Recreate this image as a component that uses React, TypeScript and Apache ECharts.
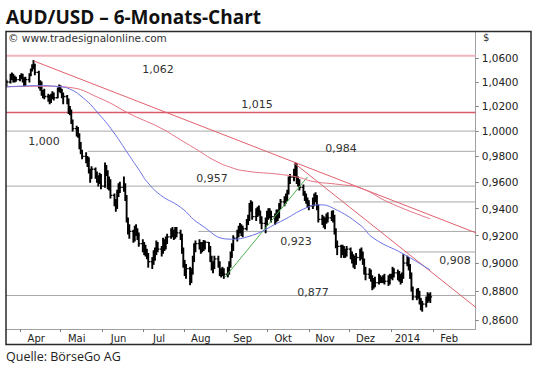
import React, { useEffect, useRef } from 'react';
import * as echarts from 'echarts';

// ---------- data ----------
const START_DATE = '2013-03-22';
const FIRST_OPEN = 1.038;

// daily closes (weekdays from START_DATE)
const closes = [
  1.0400,
  1.0440, 1.0460, 1.0420, 1.0430, 1.0420,
  1.0440, 1.0450, 1.0420, 1.0390, 1.0420,
  1.0460, 1.0500, 1.0530, 1.0540, 1.0480,
  1.0370, 1.0390, 1.0310, 1.0300, 1.0280,
  1.0270, 1.0250, 1.0280, 1.0300, 1.0270,
  1.0340, 1.0360, 1.0330, 1.0290, 1.0280,
  1.0250, 1.0180, 1.0160, 1.0080, 1.0020,
  1.0010, 0.9970, 0.9880, 0.9840, 0.9800,
  0.9780, 0.9770, 0.9690, 0.9630, 0.9700,
  0.9660, 0.9620, 0.9620, 0.9650, 0.9570,
  0.9720, 0.9680, 0.9580, 0.9610, 0.9500,
  0.9440, 0.9420, 0.9520, 0.9560, 0.9560,
  0.9580, 0.9480, 0.9320, 0.9250, 0.9230,
  0.9170, 0.9260, 0.9230, 0.9200, 0.9140,
  0.9140, 0.9100, 0.9090, 0.9050, 0.9010,
  0.9000, 0.9060, 0.9090, 0.9140, 0.9100,
  0.9080, 0.9160, 0.9120, 0.9160, 0.9190,
  0.9230, 0.9220, 0.9200, 0.9240, 0.9220,
  0.9200, 0.9090, 0.9000, 0.8940, 0.8960,
  0.8890, 0.8930, 0.9030, 0.9120, 0.9140,
  0.9140, 0.9100, 0.9130, 0.9120, 0.9150,
  0.9110, 0.9040, 0.8980, 0.8970, 0.9030,
  0.9000, 0.8930, 0.8940, 0.8950, 0.8920,
  0.8950, 0.8990, 0.9060, 0.9120, 0.9180,
  0.9220, 0.9250, 0.9270, 0.9220, 0.9250,
  0.9300, 0.9330, 0.9420, 0.9440, 0.9340,
  0.9370, 0.9400, 0.9380, 0.9320, 0.9290,
  0.9310, 0.9350, 0.9380, 0.9360, 0.9340,
  0.9320, 0.9370, 0.9350, 0.9420, 0.9450,
  0.9470, 0.9480, 0.9520, 0.9620, 0.9640,
  0.9660, 0.9710, 0.9610, 0.9600, 0.9560,
  0.9520, 0.9490, 0.9460, 0.9440, 0.9420,
  0.9460, 0.9500, 0.9480, 0.9420, 0.9320,
  0.9330, 0.9300, 0.9310, 0.9340, 0.9330,
  0.9360, 0.9340, 0.9240, 0.9130, 0.9120,
  0.9090, 0.9110, 0.9070, 0.9080, 0.9100,
  0.9060, 0.9050, 0.9000, 0.9020, 0.9040,
  0.9080, 0.9060, 0.9020, 0.8950, 0.8920,
  0.8940, 0.8900, 0.8830, 0.8870, 0.8860,
  0.8900, 0.8890, 0.8880, 0.8890, 0.8870,
  0.8880, 0.8900, 0.8910, 0.8950, 0.8930,
  0.8920, 0.8900, 0.8880, 0.8900, 0.9000,
  0.9020, 0.8980, 0.8920, 0.8820, 0.8760,
  0.8800, 0.8790, 0.8740, 0.8700, 0.8710,
  0.8740, 0.8770, 0.8750, 0.8760,
];

const highs = [
  1.0415,
  1.0465, 1.0475, 1.0465, 1.0450, 1.0440,
  1.0455, 1.0470, 1.0465, 1.0435, 1.0440,
  1.0470, 1.0510, 1.0545, 1.0580, 1.0550,
  1.0490, 1.0410, 1.0400, 1.0330, 1.0340,
  1.0300, 1.0290, 1.0300, 1.0320, 1.0310,
  1.0350, 1.0375, 1.0370, 1.0340, 1.0310,
  1.0290, 1.0260, 1.0200, 1.0170, 1.0090,
  1.0040, 1.0030, 0.9980, 0.9910, 0.9850,
  0.9830, 0.9800, 0.9790, 0.9700, 0.9720,
  0.9710, 0.9680, 0.9650, 0.9670, 0.9660,
  0.9750, 0.9730, 0.9690, 0.9640, 0.9620,
  0.9510, 0.9470, 0.9540, 0.9590, 0.9600,
  0.9640, 0.9590, 0.9500, 0.9330, 0.9280,
  0.9240, 0.9270, 0.9280, 0.9250, 0.9220,
  0.9170, 0.9150, 0.9130, 0.9100, 0.9070,
  0.9040, 0.9090, 0.9110, 0.9160, 0.9150,
  0.9120, 0.9180, 0.9170, 0.9190, 0.9210,
  0.9250, 0.9260, 0.9240, 0.9260, 0.9260,
  0.9240, 0.9210, 0.9110, 0.9020, 0.8990,
  0.8970, 0.8960, 0.9050, 0.9140, 0.9160,
  0.9170, 0.9150, 0.9150, 0.9165, 0.9160,
  0.9150, 0.9120, 0.9050, 0.9010, 0.9050,
  0.9050, 0.9010, 0.8960, 0.8970, 0.8960,
  0.8970, 0.9010, 0.9080, 0.9140, 0.9200,
  0.9240, 0.9270, 0.9290, 0.9280, 0.9270,
  0.9320, 0.9350, 0.9440, 0.9460, 0.9450,
  0.9400, 0.9410, 0.9420, 0.9380, 0.9340,
  0.9330, 0.9380, 0.9400, 0.9400, 0.9380,
  0.9360, 0.9390, 0.9390, 0.9440, 0.9470,
  0.9490, 0.9510, 0.9540, 0.9640, 0.9660,
  0.9700, 0.9750, 0.9745, 0.9640, 0.9620,
  0.9580, 0.9530, 0.9510, 0.9480, 0.9460,
  0.9480, 0.9510, 0.9520, 0.9500, 0.9430,
  0.9350, 0.9340, 0.9330, 0.9360, 0.9370,
  0.9380, 0.9385, 0.9350, 0.9250, 0.9160,
  0.9130, 0.9130, 0.9120, 0.9100, 0.9120,
  0.9110, 0.9080, 0.9060, 0.9050, 0.9070,
  0.9100, 0.9110, 0.9080, 0.9030, 0.8970,
  0.8960, 0.8950, 0.8910, 0.8890, 0.8900,
  0.8920, 0.8910, 0.8900, 0.8910, 0.8920,
  0.8910, 0.8920, 0.8920, 0.8970, 0.8960,
  0.8950, 0.8940, 0.8920, 0.8930, 0.9060,
  0.9050, 0.9040, 0.8990, 0.8930, 0.8830,
  0.8815, 0.8820, 0.8800, 0.8750, 0.8730,
  0.8760, 0.8790, 0.8780, 0.8790,
];

const lows = [
  1.0360,
  1.0390, 1.0420, 1.0400, 1.0400, 1.0405,
  1.0410, 1.0425, 1.0400, 1.0365, 1.0370,
  1.0400, 1.0450, 1.0490, 1.0510, 1.0460,
  1.0350, 1.0330, 1.0290, 1.0270, 1.0260,
  1.0240, 1.0220, 1.0230, 1.0260, 1.0250,
  1.0270, 1.0320, 1.0310, 1.0270, 1.0220,
  1.0220, 1.0140, 1.0130, 1.0060, 1.0000,
  0.9960, 0.9950, 0.9860, 0.9820, 0.9780,
  0.9750, 0.9720, 0.9670, 0.9600, 0.9640,
  0.9630, 0.9600, 0.9570, 0.9590, 0.9550,
  0.9560, 0.9650, 0.9550, 0.9540, 0.9480,
  0.9420, 0.9380, 0.9400, 0.9490, 0.9520,
  0.9530, 0.9460, 0.9300, 0.9210, 0.9180,
  0.9150, 0.9160, 0.9200, 0.9170, 0.9120,
  0.9080, 0.9060, 0.9050, 0.9030, 0.8970,
  0.8960, 0.8990, 0.9020, 0.9060, 0.9080,
  0.9050, 0.9070, 0.9090, 0.9100, 0.9140,
  0.9180, 0.9190, 0.9170, 0.9180, 0.9190,
  0.9170, 0.9070, 0.8970, 0.8910, 0.8890,
  0.8845, 0.8860, 0.8920, 0.9010, 0.9080,
  0.9100, 0.9070, 0.9080, 0.9090, 0.9100,
  0.9080, 0.9010, 0.8950, 0.8930, 0.8960,
  0.8970, 0.8910, 0.8900, 0.8910, 0.8890,
  0.8900, 0.8920, 0.8970, 0.9040, 0.9090,
  0.9160, 0.9190, 0.9220, 0.9200, 0.9190,
  0.9240, 0.9280, 0.9310, 0.9380, 0.9320,
  0.9310, 0.9340, 0.9350, 0.9290, 0.9250,
  0.9220, 0.9280, 0.9320, 0.9330, 0.9300,
  0.9280, 0.9300, 0.9310, 0.9330, 0.9400,
  0.9420, 0.9440, 0.9460, 0.9510, 0.9590,
  0.9610, 0.9640, 0.9590, 0.9570, 0.9540,
  0.9500, 0.9460, 0.9440, 0.9410, 0.9390,
  0.9400, 0.9420, 0.9450, 0.9390, 0.9300,
  0.9280, 0.9260, 0.9250, 0.9290, 0.9300,
  0.9310, 0.9300, 0.9210, 0.9110, 0.9060,
  0.9040, 0.9060, 0.9040, 0.9040, 0.9050,
  0.9030, 0.9000, 0.8970, 0.8960, 0.8990,
  0.9020, 0.9030, 0.8990, 0.8920, 0.8880,
  0.8890, 0.8870, 0.8810, 0.8820, 0.8830,
  0.8850, 0.8860, 0.8860, 0.8860, 0.8850,
  0.8840, 0.8850, 0.8890, 0.8880, 0.8900,
  0.8880, 0.8870, 0.8850, 0.8860, 0.8890,
  0.8980, 0.8950, 0.8890, 0.8800, 0.8740,
  0.8740, 0.8750, 0.8710, 0.8670, 0.8660,
  0.8690, 0.8720, 0.8730, 0.8720,
];

// moving averages
const blueMaDates = ['2013-03-22', '2013-04-01', '2013-04-16', '2013-05-01', '2013-05-06', '2013-05-18', '2013-05-30', '2013-06-09', '2013-06-19', '2013-06-29', '2013-07-04', '2013-07-14', '2013-07-29', '2013-08-12', '2013-09-04', '2013-09-16', '2013-10-11', '2013-10-31', '2013-11-09', '2013-11-19', '2013-12-09', '2013-12-19', '2014-01-10', '2014-01-30'];
const blueMa = [1.0360, 1.0365, 1.0370, 1.0360, 1.0350, 1.0267, 1.0130, 0.9996, 0.9838, 0.9682, 0.9605, 0.9503, 0.9410, 0.9286, 0.9173, 0.9189, 0.9303, 0.9410, 0.9428, 0.9403, 0.9278, 0.9180, 0.9066, 0.8950];

const redMaDates = ['2013-03-22', '2013-04-21', '2013-05-06', '2013-05-30', '2013-06-23', '2013-07-14', '2013-07-29', '2013-08-09', '2013-08-22', '2013-09-04', '2013-09-16', '2013-10-11', '2013-10-25', '2013-11-04', '2013-11-24', '2013-12-09', '2013-12-31', '2014-01-30'];
const redMa = [1.0360, 1.0365, 1.0357, 1.0267, 1.0130, 1.0026, 0.9930, 0.9860, 0.9775, 0.9715, 0.9685, 0.9660, 0.9636, 0.9606, 0.9582, 0.9556, 0.9443, 0.9323];

// horizontal levels
const levelValues = [1.062, 1.015, 1.000, 0.984, 0.957, 0.945, 0.923, 0.908, 0.877];
const levelStarts = ['', '', '', '2013-05-21', '', '2013-11-19', '2013-08-11', '2014-01-11', ''];
const levelLabelled = [true, true, true, true, true, false, true, true, true];

// trend lines [date, price]
const trendDown: [string, number][] = [['2013-04-11', 1.0577], ['2014-03-05', 0.9219]];
const trendOct: [string, number][] = [['2013-10-21', 0.9749], ['2014-03-05', 0.8685]];
const trendUp: [string, number][] = [['2013-08-31', 0.8900], ['2013-10-31', 0.9641]];

const monthStarts = ['2013-04-01', '2013-05-01', '2013-06-01', '2013-07-01', '2013-08-01', '2013-09-01', '2013-10-01', '2013-11-01', '2013-12-01', '2014-01-01', '2014-02-01'];
const monthLabels = ['Apr', 'Mai', 'Jun', 'Jul', 'Aug', 'Sep', 'Okt', 'Nov', 'Dez', '2014', 'Feb'];
const yTicks = [0.86, 0.88, 0.90, 0.92, 0.94, 0.96, 0.98, 1.00, 1.02, 1.04, 1.06];

// ---------- helpers ----------
const DAY0 = Date.UTC(2013, 2, 1);
const dayOf = (s: string) => {
  const [y, m, d] = s.split('-').map(Number);
  return (Date.UTC(y, m - 1, d) - DAY0) / 86400000;
};
const X_MIN = 20.63;
const X_MAX = 368.63;
const Y_MIN = 0.85384;
const Y_MAX = 1.08277;

const tradingDays: number[] = [];
{
  let t = dayOf(START_DATE) * 86400000 + DAY0;
  while (tradingDays.length < closes.length) {
    const wd = new Date(t).getUTCDay();
    if (wd !== 0 && wd !== 6) tradingDays.push((t - DAY0) / 86400000);
    t += 86400000;
  }
}

const fmt = (v: number, d: number) => v.toFixed(d).replace('.', ',');

export default function App() {
  const ref = useRef<HTMLDivElement>(null);
  useEffect(() => {
    if (!ref.current) return;
    const chart = echarts.init(ref.current, undefined, { renderer: 'svg' });

    const bars = closes.map((c, i) => [tradingDays[i], i ? closes[i - 1] : FIRST_OPEN, highs[i], lows[i], c]);
    const labelDays = monthStarts.map((s) => dayOf(s) + 12);

    const levelColors = ['#f0b4bc', '#d85a6a', '#a8a8a8', '#a8a8a8', '#a8a8a8', '#a8a8a8', '#a8a8a8', '#a8a8a8', '#a8a8a8'];
    const levelWidths = [2, 1.4, 1, 1, 1, 1, 1, 1, 1];
    const levelLabelPos: [number, number][] = [[158, 69], [257, 104], [44, 141], [341, 148], [212, 178], [0, 0], [296, 241], [455, 260], [313, 292]];

    const lineSeries = (data: number[][], color: string, width: number, z: number, smooth = false) => ({
      type: 'line', data, symbol: 'none', silent: true, smooth, z,
      lineStyle: { color, width }, clip: true,
    });

    const series: any[] = [];
    levelValues.forEach((v, i) => {
      const x0 = levelStarts[i] ? dayOf(levelStarts[i]) : X_MIN;
      series.push(lineSeries([[x0, v], [X_MAX, v]], levelColors[i], levelWidths[i], 1));
    });
    series.push({
      type: 'custom',
      z: 3,
      silent: true,
      data: bars,
      encode: { x: 0, y: [1, 2, 3, 4] },
      clip: true,
      renderItem: (_p: any, api: any) => {
        const x = api.value(0);
        const o = api.value(1), h = api.value(2), l = api.value(3), c = api.value(4);
        const top = api.coord([x, Math.max(h, o, c)]);
        const bot = api.coord([x, Math.min(l, o, c)]);
        const po = api.coord([x, o]);
        const pc = api.coord([x, c]);
        const st = { stroke: '#000', lineWidth: 1.9 };
        const tk = { stroke: '#000', lineWidth: 1.3 };
        return {
          type: 'group',
          children: [
            { type: 'line', shape: { x1: top[0], y1: top[1] - 0.4, x2: bot[0], y2: bot[1] + 0.4 }, style: st },
            { type: 'line', shape: { x1: po[0] - 1.8, y1: po[1], x2: po[0], y2: po[1] }, style: tk },
            { type: 'line', shape: { x1: pc[0], y1: pc[1], x2: pc[0] + 1.8, y2: pc[1] }, style: tk },
          ],
        };
      },
    });
    series.push(lineSeries(trendDown.map(([d, v]) => [dayOf(d), v]), '#e0606e', 1, 4));
    series.push(lineSeries(trendOct.map(([d, v]) => [dayOf(d), v]), '#e0606e', 1, 4));
    series.push(lineSeries(trendUp.map(([d, v]) => [dayOf(d), v]), '#4caf50', 1, 4));
    series.push(lineSeries(redMaDates.map((d, i) => [dayOf(d), redMa[i]]), '#e57383', 1, 5, true));
    series.push(lineSeries(blueMaDates.map((d, i) => [dayOf(d), blueMa[i]]), '#6c72e6', 1, 6, true));

    const labelTexts = levelValues
      .map((v, i) => ({ v, i }))
      .filter(({ i }) => levelLabelled[i])
      .map(({ v, i }) => ({
        type: 'text',
        x: levelLabelPos[i][0],
        y: levelLabelPos[i][1],
        z: 10,
        style: { text: fmt(v, 3), fontSize: 11, fontFamily: 'DejaVu Sans', fill: '#333', align: 'center', verticalAlign: 'middle' },
      }));

    chart.setOption({
      animation: false,
      backgroundColor: '#fff',
      grid: { left: 6, right: 64.3, top: 31.5, bottom: 41, containLabel: false, outerBoundsMode: 'none' },
      xAxis: {
        type: 'value',
        min: X_MIN,
        max: X_MAX,
        axisLine: { show: true, onZero: false, lineStyle: { color: '#a0a0a0', width: 1 } },
        axisTick: { show: true, customValues: monthStarts.map(dayOf), length: 3, lineStyle: { color: '#808080' } },
        axisLabel: {
          customValues: labelDays,
          formatter: (v: number) => {
            const k = labelDays.findIndex((d) => Math.abs(d - v) < 0.5);
            return k >= 0 ? monthLabels[k] : '';
          },
          color: '#222', fontSize: 10, fontFamily: 'DejaVu Sans', margin: 4,
        },
        splitLine: { show: false },
      },
      yAxis: {
        type: 'log',
        logBase: 10,
        position: 'right',
        min: Y_MIN,
        max: Y_MAX,
        axisLine: { show: true, lineStyle: { color: '#a0a0a0', width: 1 } },
        axisTick: { show: true, customValues: yTicks, length: 3, lineStyle: { color: '#808080' } },
        axisLabel: {
          customValues: yTicks,
          formatter: (v: number) => fmt(v, 4),
          color: '#222', fontSize: 10.5, fontFamily: 'DejaVu Sans', margin: 6,
        },
        splitLine: { show: false },
      },
      series,
      graphic: [
        { type: 'rect', z: 20, shape: { x: 6, y: 31.5, width: 525, height: 313 }, style: { fill: 'none', stroke: '#2a2a2a', lineWidth: 1.5 } },
        { type: 'text', z: 20, x: 6, y: 17, style: { text: 'AUD/USD – 6-Monats-Chart', fontSize: 19, fontWeight: 'bold', fontFamily: 'Open Sans', fill: '#111', verticalAlign: 'middle' } },
        { type: 'text', z: 20, x: 8, y: 38, style: { text: '© www.tradesignalonline.com', fontSize: 10.5, fontFamily: 'DejaVu Sans', fill: '#333', verticalAlign: 'middle' } },
        { type: 'text', z: 20, x: 483, y: 37, style: { text: '$', fontSize: 10, fontFamily: 'DejaVu Sans', fill: '#333', verticalAlign: 'middle' } },
        { type: 'text', z: 20, x: 6, y: 356, style: { text: 'Quelle: BörseGo AG', fontSize: 12.5, fontFamily: 'Open Sans', fill: '#222', verticalAlign: 'middle' } },
        ...labelTexts,
      ],
    });
    return () => chart.dispose();
  }, []);
  return <div ref={ref} style={{ position: 'fixed', left: 0, top: 0, width: 540, height: 370, background: '#fff' }} />;
}
